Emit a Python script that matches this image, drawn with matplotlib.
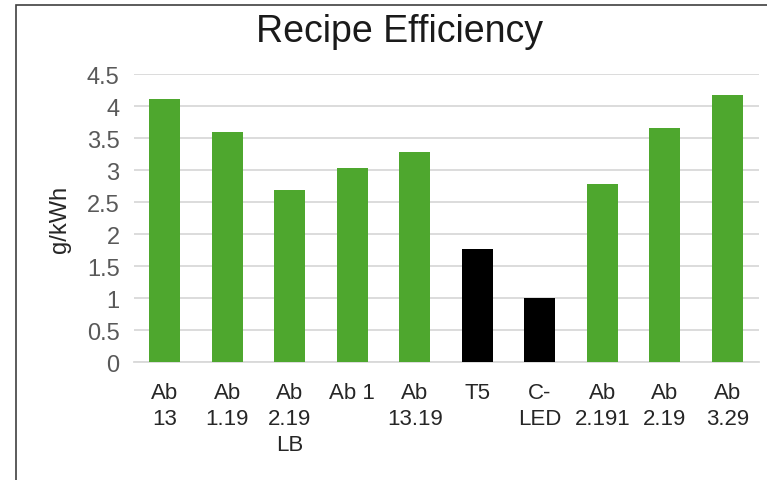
import matplotlib
matplotlib.use("Agg")
import matplotlib.pyplot as plt
from matplotlib.patches import Rectangle

plt.rcParams["font.family"] = ["Liberation Sans", "DejaVu Sans"]

# data
labels = ["Ab\n13", "Ab\n1.19", "Ab\n2.19\nLB", "Ab 1", "Ab\n13.19",
          "T5", "C-\nLED", "Ab\n2.191", "Ab\n2.19", "Ab\n3.29"]
values = [4.11, 3.59, 2.69, 3.03, 3.28, 1.77, 1.00, 2.78, 3.66, 4.17]
is_control = [False, False, False, False, False, True, True, False, False, False]

GREEN = "#4EA72E"
BLACK = "#000000"
colors = [BLACK if c else GREEN for c in is_control]

fig = plt.figure(figsize=(7.67, 4.81), dpi=100)
ax = fig.add_axes([133.5 / 767, 1 - 363.3 / 481, 625 / 767, 288.3 / 481])

x = list(range(len(labels)))
ax.bar(x, values, width=0.5, color=colors, zorder=3)

ax.set_xlim(-0.5, len(labels) - 0.5)
ax.set_ylim(0, 4.5)
ax.set_yticks([i * 0.5 for i in range(10)])
ax.set_yticklabels(["0", "0.5", "1", "1.5", "2", "2.5", "3", "3.5", "4", "4.5"])
ax.set_xticks(x)
ax.set_xticklabels(labels, linespacing=1.32)

ax.grid(True, axis="y", color="#D9D9D9", lw=1.3, zorder=0)
for s in ["top", "right", "left"]:
    ax.spines[s].set_visible(False)
ax.spines["bottom"].set_color("#D9D9D9")
ax.spines["bottom"].set_linewidth(1.3)

ax.tick_params(axis="y", length=0, pad=10, labelsize=17, labelcolor="#595959")
ax.tick_params(axis="x", length=0, pad=14, labelsize=16, labelcolor="#262626")

ax.set_ylabel("g/kWh", fontsize=17, color="#262626")
ax.yaxis.label.set_va("center")
ax.yaxis.set_label_coords((60 - 133.5) / 625, 0.5)

fig.text(400 / 767, 1 - 42.5 / 481, "Recipe Efficiency", ha="center",
         va="baseline", fontsize=27, color="#1a1a1a")

# chart border (cropped at right and bottom)
fig.patches.append(Rectangle((16 / 767, -0.1), 1.2, 1.1 - 6 / 481,
                             transform=fig.transFigure, fill=False,
                             edgecolor="#404040", lw=1.2))

fig.savefig("out.png", dpi=100)
